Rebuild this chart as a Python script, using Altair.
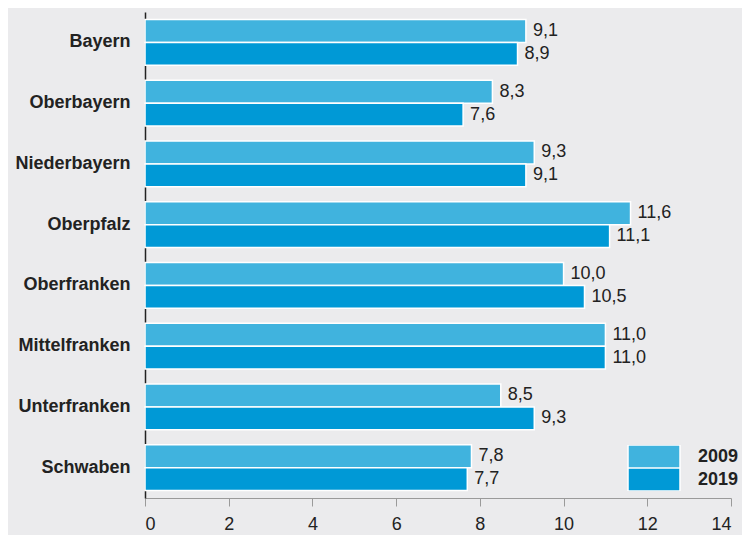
import altair as alt
import pandas as pd

regions = ["Bayern", "Oberbayern", "Niederbayern", "Oberpfalz", "Oberfranken",
           "Mittelfranken", "Unterfranken", "Schwaben"]
v2009 = [9.1, 8.3, 9.3, 11.6, 10.0, 11.0, 8.5, 7.8]
v2019 = [8.9, 7.6, 9.1, 11.1, 10.5, 11.0, 9.3, 7.7]
years = ["2009", "2019"]
colors = ["#40b3de", "#0099d6"]
x_ticks = [0, 2, 4, 6, 8, 10, 12, 14]

rows = []
for r, a, b in zip(regions, v2009, v2019):
    rows.append({"region": r, "year": "2009", "value": a, "label": f"{a:.1f}".replace(".", ",")})
    rows.append({"region": r, "year": "2019", "value": b, "label": f"{b:.1f}".replace(".", ",")})
df = pd.DataFrame(rows)

FONT = "Liberation Sans"

y_enc = alt.Y("region:N", sort=regions, title=None,
              scale=alt.Scale(paddingInner=0.25, paddingOuter=0.125),
              axis=alt.Axis(domainColor="#222222", domainWidth=1.5, ticks=False,
                            labelFont=FONT, labelFontSize=18, labelFontWeight="bold",
                            labelColor="#222222", labelPadding=15))
yoff = alt.YOffset("year:N", sort=years, scale=alt.Scale(paddingInner=0, paddingOuter=0))
x_enc = alt.X("value:Q", title=None,
              scale=alt.Scale(domain=[0, 14], nice=False),
              axis=alt.Axis(values=x_ticks, grid=False, domainColor="#9a9a9a",
                            tickColor="#9a9a9a", tickSize=8, labelFont=FONT,
                            labelFontSize=18, labelColor="#222222", labelPadding=9))

legend = alt.Legend(title=None, orient="none", legendX=482, legendY=433,
                    symbolType="M-1,-0.44L1,-0.44L1,0.44L-1,0.44Z", symbolSize=2704,
                    symbolStrokeColor="white", symbolStrokeWidth=1.5, symbolOpacity=1,
                    clipHeight=23, rowPadding=0, labelOffset=17, padding=0,
                    labelFont=FONT, labelFontSize=18, labelFontWeight="bold",
                    labelColor="#222222")

bars = alt.Chart(df).mark_bar(stroke="white", strokeWidth=1.5, opacity=1).encode(
    y=y_enc, yOffset=yoff, x=x_enc,
    color=alt.Color("year:N", sort=years,
                    scale=alt.Scale(domain=years, range=colors), legend=legend),
)

labels = alt.Chart(df).mark_text(align="left", baseline="middle", dx=7, font=FONT,
                                 fontSize=18, color="#222222").encode(
    y=alt.Y("region:N", sort=regions), yOffset=alt.YOffset("year:N", sort=years),
    x=alt.X("value:Q"), text="label:N",
)

chart = alt.layer(bars, labels).properties(
    width=586, height=486,
    autosize=alt.AutoSizeParams(type="none"),
    padding={"left": 137, "top": 4, "right": 11, "bottom": 37},
    background="#ebebed",
).configure_view(stroke=None)

chart.save("out.html", embed_options={"renderer": "svg", "actions": False})
